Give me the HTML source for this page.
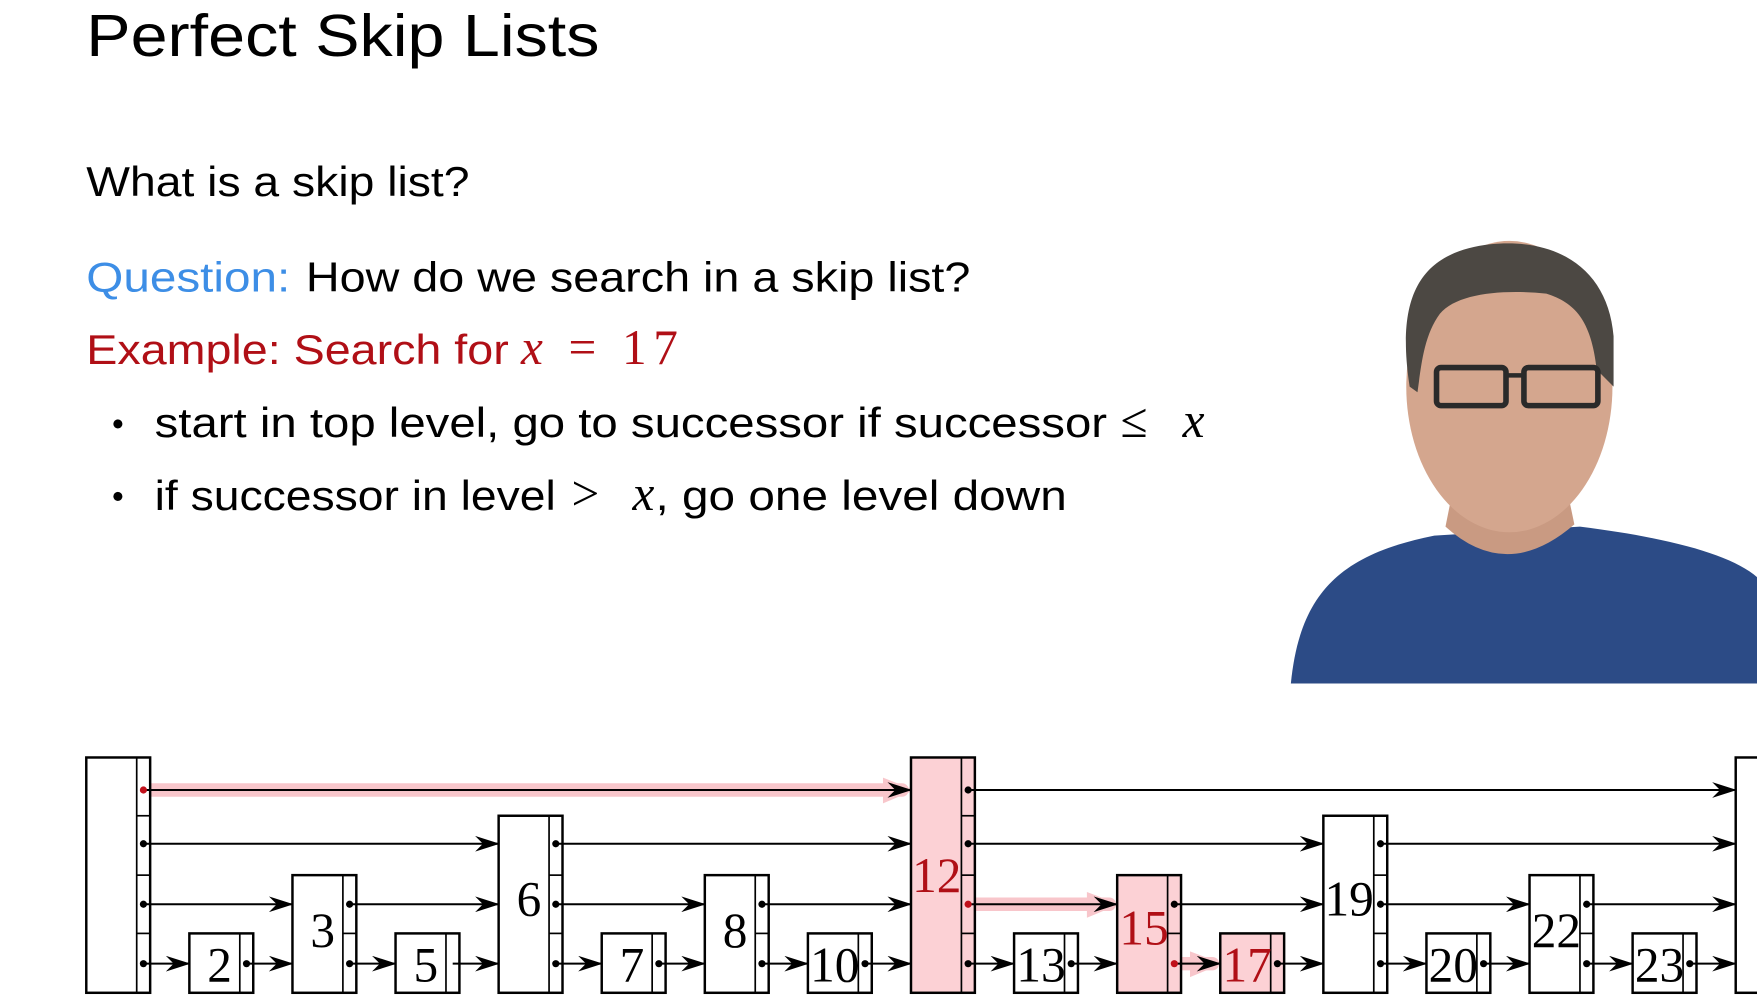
<!DOCTYPE html>
<html><head><meta charset="utf-8"><style>
html,body{margin:0;padding:0;background:#fff;width:1757px;height:1004px;overflow:hidden}
svg{display:block}
.s{font-family:"Liberation Sans",sans-serif}
.m{font-family:"Liberation Serif",serif}
</style></head><body>
<svg width="1757" height="1004" viewBox="0 0 1568 896" preserveAspectRatio="none" xmlns="http://www.w3.org/2000/svg">
<defs>
<marker id="a" viewBox="0 0 22 14" refX="21" refY="7" markerWidth="22" markerHeight="14" markerUnits="userSpaceOnUse" orient="auto">
<path d="M0,0 L22,7 L0,14 L7,7 Z" fill="#000"/>
</marker>
</defs>
<rect width="1568" height="896" fill="#fff"/>
<!-- text -->
<text x="77" y="50" class="s" font-size="53" textLength="458" lengthAdjust="spacingAndGlyphs">Perfect Skip Lists</text>
<text x="77" y="175" class="s" font-size="37" textLength="342" lengthAdjust="spacingAndGlyphs">What is a skip list?</text>
<text x="77" y="260" class="s" font-size="37" fill="#3d8ee6" textLength="182" lengthAdjust="spacingAndGlyphs">Question:</text>
<text x="273" y="260" class="s" font-size="37" textLength="593" lengthAdjust="spacingAndGlyphs">How do we search in a skip list?</text>
<text x="77" y="325" class="s" font-size="37" fill="#b00f16" textLength="377" lengthAdjust="spacingAndGlyphs">Example: Search for</text>
<text x="465" y="325" class="m" font-size="44" fill="#b00f16" textLength="140" lengthAdjust="spacing"><tspan font-style="italic">x</tspan> = 17</text>
<text x="100" y="388" class="s" font-size="30">•</text>
<text x="138" y="390" class="s" font-size="37" textLength="850" lengthAdjust="spacingAndGlyphs">start in top level, go to successor if successor</text>
<text x="1000" y="390" class="m" font-size="44" textLength="75" lengthAdjust="spacing">≤ <tspan font-style="italic">x</tspan></text>
<text x="100" y="453" class="s" font-size="30">•</text>
<text x="138" y="455" class="s" font-size="37" textLength="358" lengthAdjust="spacingAndGlyphs">if successor in level</text>
<text x="510" y="455" class="m" font-size="44" textLength="74" lengthAdjust="spacing">&gt; <tspan font-style="italic">x</tspan></text>
<text x="585" y="455" class="s" font-size="37" textLength="367" lengthAdjust="spacingAndGlyphs">, go one level down</text>
<!-- photo -->
<path d="M1152,610 C1160,530 1195,495 1280,478 L1410,470 C1490,480 1545,495 1568,515 L1568,610 Z" fill="#2c4b86"/>
<path d="M1290,470 Q1345,520 1405,468 L1395,420 L1300,420 Z" fill="#c99a82"/>
<ellipse cx="1347" cy="345" rx="92" ry="130" fill="#d4a68e"/>
<path d="M1258,345 C1245,260 1270,225 1330,218 C1390,212 1435,240 1440,300 L1440,345 L1425,330 C1420,285 1405,270 1380,262 C1340,258 1300,262 1285,280 C1270,300 1268,330 1265,350 Z" fill="#4c4843"/>
<rect x="1282" y="328" width="62" height="34" rx="4" fill="none" stroke="#2a2a2a" stroke-width="5"/>
<rect x="1360" y="328" width="66" height="34" rx="4" fill="none" stroke="#2a2a2a" stroke-width="5"/>
<line x1="1344" y1="335" x2="1360" y2="335" stroke="#2a2a2a" stroke-width="4"/>
<!-- highlights -->
<g stroke="#f8c6cb" stroke-width="12" stroke-linecap="round" fill="none">
<line x1="130" y1="705" x2="805" y2="705"/>
<line x1="866" y1="807" x2="990" y2="807"/>
<path d="M1050,860 Q1065,860 1082,860"/>
</g>
<g fill="#f8c6cb">
<path d="M788,694 L816,705 L788,717 Z"/>
<path d="M970,796 L999,807 L970,819 Z"/>
<path d="M1062,849 L1091,860 L1062,872 Z"/>
</g>
<!-- nodes -->
<g stroke="#000" stroke-width="2.2" fill="#fff">
<rect x="77" y="676" width="57" height="210"/>
<rect x="169" y="833" width="57" height="53"/>
<rect x="261" y="781" width="57" height="105"/>
<rect x="353" y="833" width="57" height="53"/>
<rect x="445" y="728" width="57" height="158"/>
<rect x="537" y="833" width="57" height="53"/>
<rect x="629" y="781" width="57" height="105"/>
<rect x="721" y="833" width="57" height="53"/>
<rect x="813" y="676" width="57" height="210" fill="#fcd1d5"/>
<rect x="905" y="833" width="57" height="53"/>
<rect x="997" y="781" width="57" height="105" fill="#fcd1d5"/>
<rect x="1089" y="833" width="57" height="53" fill="#fcd1d5"/>
<rect x="1181" y="728" width="57" height="158"/>
<rect x="1273" y="833" width="57" height="53"/>
<rect x="1365" y="781" width="57" height="105"/>
<rect x="1457" y="833" width="57" height="53"/>
<rect x="1549" y="676" width="57" height="210"/>
</g>
<g stroke="#000" stroke-width="1.5">
<line x1="122" y1="676" x2="122" y2="886"/><line x1="122" y1="728" x2="134" y2="728"/><line x1="122" y1="781" x2="134" y2="781"/><line x1="122" y1="833" x2="134" y2="833"/>
<line x1="214" y1="833" x2="214" y2="886"/>
<line x1="306" y1="781" x2="306" y2="886"/><line x1="306" y1="833" x2="318" y2="833"/>
<line x1="398" y1="833" x2="398" y2="886"/>
<line x1="490" y1="728" x2="490" y2="886"/><line x1="490" y1="781" x2="502" y2="781"/><line x1="490" y1="833" x2="502" y2="833"/>
<line x1="582" y1="833" x2="582" y2="886"/>
<line x1="674" y1="781" x2="674" y2="886"/><line x1="674" y1="833" x2="686" y2="833"/>
<line x1="766" y1="833" x2="766" y2="886"/>
<line x1="858" y1="676" x2="858" y2="886"/><line x1="858" y1="728" x2="870" y2="728"/><line x1="858" y1="781" x2="870" y2="781"/><line x1="858" y1="833" x2="870" y2="833"/>
<line x1="950" y1="833" x2="950" y2="886"/>
<line x1="1042" y1="781" x2="1042" y2="886"/><line x1="1042" y1="833" x2="1054" y2="833"/>
<line x1="1134" y1="833" x2="1134" y2="886"/>
<line x1="1226" y1="728" x2="1226" y2="886"/><line x1="1226" y1="781" x2="1238" y2="781"/><line x1="1226" y1="833" x2="1238" y2="833"/>
<line x1="1318" y1="833" x2="1318" y2="886"/>
<line x1="1410" y1="781" x2="1410" y2="886"/><line x1="1410" y1="833" x2="1422" y2="833"/>
<line x1="1502" y1="833" x2="1502" y2="886"/>
</g>
<!-- arrows -->
<g stroke="#000" stroke-width="1.8" marker-end="url(#a)">
<line x1="128" y1="705" x2="813" y2="705"/><line x1="864" y1="705" x2="1549" y2="705"/>
<line x1="128" y1="753" x2="445" y2="753"/><line x1="496" y1="753" x2="813" y2="753"/><line x1="864" y1="753" x2="1181" y2="753"/><line x1="1232" y1="753" x2="1549" y2="753"/>
<line x1="128" y1="807" x2="261" y2="807"/><line x1="312" y1="807" x2="445" y2="807"/><line x1="496" y1="807" x2="629" y2="807"/><line x1="680" y1="807" x2="813" y2="807"/><line x1="864" y1="807" x2="997" y2="807"/><line x1="1048" y1="807" x2="1181" y2="807"/><line x1="1232" y1="807" x2="1365" y2="807"/><line x1="1416" y1="807" x2="1549" y2="807"/>
<line x1="128" y1="860" x2="169" y2="860"/><line x1="220" y1="860" x2="261" y2="860"/><line x1="312" y1="860" x2="353" y2="860"/><line x1="404" y1="860" x2="445" y2="860"/><line x1="496" y1="860" x2="537" y2="860"/><line x1="588" y1="860" x2="629" y2="860"/><line x1="680" y1="860" x2="721" y2="860"/><line x1="772" y1="860" x2="813" y2="860"/><line x1="864" y1="860" x2="905" y2="860"/><line x1="956" y1="860" x2="997" y2="860"/><line x1="1048" y1="860" x2="1089" y2="860"/><line x1="1140" y1="860" x2="1181" y2="860"/><line x1="1232" y1="860" x2="1273" y2="860"/><line x1="1324" y1="860" x2="1365" y2="860"/><line x1="1416" y1="860" x2="1457" y2="860"/><line x1="1508" y1="860" x2="1549" y2="860"/>
</g>
<!-- dots -->
<g fill="#000">
<circle cx="128" cy="753" r="3.2"/><circle cx="128" cy="807" r="3.2"/><circle cx="128" cy="860" r="3.2"/>
<circle cx="220" cy="860" r="3.2"/><circle cx="312" cy="807" r="3.2"/><circle cx="312" cy="860" r="3.2"/>
<circle cx="496" cy="753" r="3.2"/><circle cx="496" cy="807" r="3.2"/><circle cx="496" cy="860" r="3.2"/>
<circle cx="588" cy="860" r="3.2"/><circle cx="680" cy="807" r="3.2"/><circle cx="680" cy="860" r="3.2"/><circle cx="772" cy="860" r="3.2"/>
<circle cx="864" cy="705" r="3.2"/><circle cx="864" cy="753" r="3.2"/><circle cx="864" cy="860" r="3.2"/>
<circle cx="956" cy="860" r="3.2"/><circle cx="1048" cy="807" r="3.2"/><circle cx="1140" cy="860" r="3.2"/>
<circle cx="1232" cy="753" r="3.2"/><circle cx="1232" cy="807" r="3.2"/><circle cx="1232" cy="860" r="3.2"/>
<circle cx="1324" cy="860" r="3.2"/><circle cx="1416" cy="807" r="3.2"/><circle cx="1416" cy="860" r="3.2"/><circle cx="1508" cy="860" r="3.2"/>
</g>
<g fill="#c0101a"><circle cx="128" cy="705" r="3.2"/><circle cx="864" cy="807" r="3.2"/><circle cx="1048" cy="860" r="3.2"/></g>
<!-- labels -->
<g class="m" font-size="44" text-anchor="middle">
<text x="196" y="876">2</text>
<text x="288" y="845">3</text>
<text x="380" y="876">5</text>
<text x="472" y="817">6</text>
<text x="564" y="876">7</text>
<text x="656" y="845">8</text>
<text x="745" y="876" textLength="44" lengthAdjust="spacingAndGlyphs">10</text>
<text x="836" y="796" fill="#b00f16">12</text>
<text x="929" y="876" textLength="44" lengthAdjust="spacingAndGlyphs">13</text>
<text x="1021" y="843" fill="#b00f16" textLength="44" lengthAdjust="spacingAndGlyphs">15</text>
<text x="1113" y="876" fill="#b00f16" textLength="44" lengthAdjust="spacingAndGlyphs">17</text>
<text x="1204" y="817" textLength="44" lengthAdjust="spacingAndGlyphs">19</text>
<text x="1297" y="876" textLength="44" lengthAdjust="spacingAndGlyphs">20</text>
<text x="1389" y="845" textLength="44" lengthAdjust="spacingAndGlyphs">22</text>
<text x="1481" y="876" textLength="44" lengthAdjust="spacingAndGlyphs">23</text>
</g>
</svg>
</body></html>
